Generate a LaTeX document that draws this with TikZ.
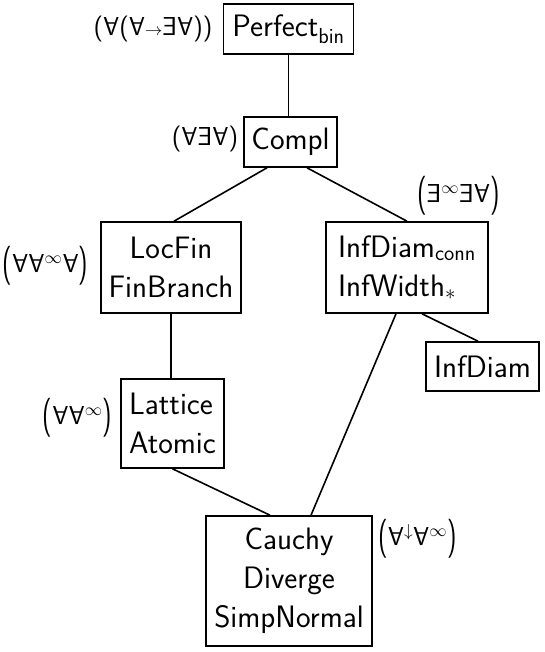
\documentclass[tikz,border=0pt]{standalone}
\usepackage{graphicx}
\usetikzlibrary{calc}
\newcommand\fa{\rotatebox[origin=c]{180}{A}}
\newcommand\ex{\reflectbox{E}}
\newcommand\lp{\raisebox{-0.125em}{\scalebox{1}[1.5]{(}}}
\newcommand\rp{\raisebox{-0.125em}{\scalebox{1}[1.5]{)}}}
\newcommand\boxfont{\sffamily\fontsize{31}{39}\selectfont}
\newcommand\labfont{\sffamily\fontsize{26}{30}\selectfont}
\tikzset{
  box/.style={draw, line width=1.6pt, inner sep=0pt, align=center, font=\boxfont},
  lab/.style={inner sep=0pt, font=\labfont},
  edge/.style={line width=1.6pt}
}
\begin{document}
\begin{tikzpicture}[x=1pt,y=-1pt]
\useasboundingbox (0,0) rectangle (545,652);
\node[box, minimum width=130pt, minimum height=50pt] (perfect) at (288.5,29) {Perfect\textsubscript{bin}};
\node[box, minimum width=93pt, minimum height=50pt] (compl) at (290.5,142) {Compl};
\node[box, minimum width=140pt, minimum height=91pt] (locfin) at (171,267.5) {LocFin\\FinBranch};
\node[box, align=left, minimum width=162pt, minimum height=91pt] (infconn) at (407,267.5) {InfDiam\textsubscript{conn}\\InfWidth$_*$};
\node[box, minimum width=113pt, minimum height=49pt] (infdiam) at (482.5,366.5) {InfDiam};
\node[box, align=left, minimum width=103pt, minimum height=89pt] (lattice) at (172.5,423.5) {Lattice\\Atomic};
\node[box, minimum width=166pt, minimum height=130pt] (cauchy) at (289,581) {Cauchy\\Diverge\\SimpNormal};

\draw[edge] (perfect.south) -- (perfect.south |- compl.north);
\draw[edge] ($(compl.south)+(-23.5,0)$) -- ($(locfin.north)+(3,0)$);
\draw[edge] ($(compl.south)+(16.5,0)$) -- (infconn.north);
\draw[edge] (locfin.south) -- (locfin.south |- lattice.north);
\draw[edge] ($(infconn.south)+(-11,0)$) -- ($(cauchy.north)+(22,0)$);
\draw[edge] ($(infconn.south)+(15,0)$) -- ($(infdiam.north)+(-4.5,0)$);
\draw[edge] (lattice.south) -- ($(cauchy.north)+(-19,0)$);

\node[lab] (lperfect) at (153,29) {(\fa(\fa$\scriptstyle\rightarrow$\ex\fa))};
\node[lab] (lcompl) at (205,139) {(\fa\ex\fa)};
\node[lab] (linf) at (458.5,196) {\lp\ex$^\infty$\ex\fa\rp};
\node[lab] (lloc) at (45.5,266) {\lp\fa\fa$^\infty$\fa\rp};
\node[lab] (llat) at (77.5,418) {\lp\fa\fa$^\infty$\rp};
\node[lab] (lcau) at (417.5,539) {\lp\fa$^\downarrow$\fa$^\infty$\rp};
\end{tikzpicture}
\end{document}
